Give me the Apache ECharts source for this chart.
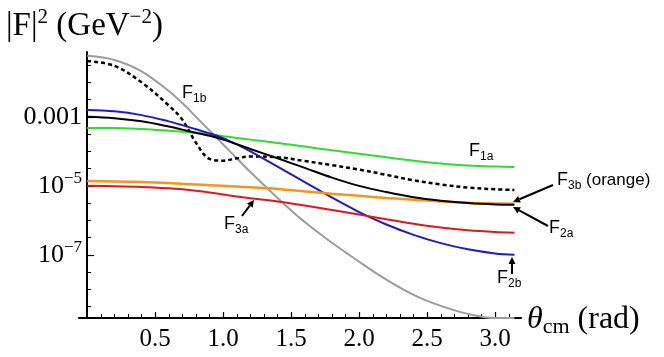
<!DOCTYPE html>
<html><head><meta charset="utf-8">
<script src="https://cdn.jsdelivr.net/npm/echarts@6/dist/echarts.min.js"></script>
<style>html,body{margin:0;padding:0;background:#fff}#c{width:664px;height:357px}</style>
</head><body><div id="c"></div>
<script>
// scattering angle (rad)
const theta = [0,0.2,0.4,0.6,0.7,0.8,0.9,1.0,1.1,1.2,1.4,1.6,1.8,2.0,2.2,2.4,2.6,2.8,3.0,3.1416];
// log10 of |F|^2 (GeV^-2)
const logF1b  = [-1.23,-1.35,-1.68,-2.25,-2.6,-3.0,-3.4,-3.8,-4.2,-4.6,-5.35,-6.05,-6.65,-7.2,-7.72,-8.16,-8.48,-8.71,-8.83,-8.83];
const logTot  = [-1.38,-1.52,-2.0,-2.67,-3.08,-3.75,-4.22,-4.27,-4.20,-4.15,-4.17,-4.28,-4.40,-4.53,-4.68,-4.84,-4.96,-5.05,-5.10,-5.12];
const logF1a  = [-3.32,-3.32,-3.35,-3.40,-3.43,-3.47,-3.51,-3.56,-3.61,-3.66,-3.76,-3.86,-3.97,-4.07,-4.17,-4.27,-4.35,-4.41,-4.44,-4.45];
const logF2b  = [-2.80,-2.84,-2.95,-3.13,-3.24,-3.36,-3.48,-3.62,-3.80,-4.00,-4.44,-4.89,-5.34,-5.76,-6.12,-6.42,-6.66,-6.84,-6.96,-7.00];
const logF3a  = [-5.00,-5.01,-5.03,-5.07,-5.10,-5.14,-5.19,-5.25,-5.31,-5.36,-5.45,-5.57,-5.70,-5.83,-5.97,-6.10,-6.21,-6.29,-6.34,-6.36];
const logF3b  = [-4.86,-4.87,-4.89,-4.92,-4.94,-4.96,-4.98,-5.00,-5.02,-5.04,-5.09,-5.16,-5.23,-5.29,-5.35,-5.40,-5.45,-5.49,-5.51,-5.52];
const logF2a  = [-3.00,-3.04,-3.13,-3.28,-3.37,-3.46,-3.55,-3.66,-3.79,-3.93,-4.20,-4.48,-4.76,-5.00,-5.18,-5.33,-5.43,-5.50,-5.54,-5.55];
// tick labels
const xTickLabels = [0.5,1.0,1.5,2.0,2.5,3.0];
const yTickLabelExps = [-7,-5,-3];

const serif = 'Liberation Serif';
const sans = 'Liberation Sans';
const xMinorTicks = []; for (let i = 1; i <= 31; i++) if (i % 5) xMinorTicks.push(+(i/10).toFixed(1));
const yMinorTicks = []; for (let e = -8.5; e <= -1.5; e += 0.5) if (yTickLabelExps.indexOf(e) < 0) yMinorTicks.push(e);

const chart = echarts.init(document.getElementById('c'));
function mk(name, arr, color, width, dashed, z) {
  return { name, type: 'line', data: theta.map((t,i)=>[t, arr[i]]), xAxisIndex: 0, yAxisIndex: 0,
    smooth: 0.35, showSymbol: false, symbol: 'none', z: z,
    lineStyle: { color, width, type: dashed ? [4,3] : 'solid' }, itemStyle: { color } };
}
function arrow(x1,y1,x2,y2){
  const a = Math.atan2(y2-y1, x2-x1), L = 7, W = 3.5;
  const bx = x2 - L*Math.cos(a), by = y2 - L*Math.sin(a);
  return [
    { type:'line', shape:{x1, y1, x2:bx, y2:by}, style:{stroke:'#000', lineWidth:2}, z: 100 },
    { type:'polygon', shape:{points:[[x2,y2],[bx - W*Math.sin(a), by + W*Math.cos(a)],[bx + W*Math.sin(a), by - W*Math.cos(a)]]}, style:{fill:'#000'}, z: 100 }
  ];
}
function flabel(x, y, sub, extra){
  return { type:'text', x, y, z: 100, style:{
    text: '{f|F}{s|' + sub + '}' + (extra ? '{e| ' + extra + '}' : ''),
    verticalAlign:'middle',
    rich:{ f:{fontFamily:sans, fontSize:18, lineHeight:24, fill:'#000'},
           s:{fontFamily:sans, fontSize:12, lineHeight:12, verticalAlign:'bottom', fill:'#000'},
           e:{fontFamily:sans, fontSize:17, lineHeight:24, fill:'#000'} } } };
}

const graphic = [
  { type:'text', x: 6, y: 26, style:{ text:'{a|\u007cF\u007c}{s|2}{a| (GeV}{s|\u22122}{a|)}', verticalAlign:'middle',
      rich:{ a:{fontFamily:serif, fontSize:33, lineHeight:38, fill:'#000'},
             s:{fontFamily:serif, fontSize:21, lineHeight:21, verticalAlign:'top', fill:'#000'} } } },
  { type:'text', x: 527, y: 320, style:{ text:'{t|\u03b8}{c|cm}{a| (rad)}', verticalAlign:'middle',
      rich:{ t:{fontFamily:serif, fontStyle:'italic', fontSize:32, lineHeight:36, fill:'#000'},
             c:{fontFamily:serif, fontSize:22, lineHeight:22, verticalAlign:'bottom', fill:'#000'},
             a:{fontFamily:serif, fontSize:32, lineHeight:36, fill:'#000'} } } },
  flabel(182, 93, '1b'),
  flabel(469, 151, '1a'),
  flabel(557, 180, '3b', '(orange)'),
  flabel(549, 228, '2a'),
  flabel(497, 278, '2b'),
  flabel(224, 224, '3a'),
  ...arrow(553, 185, 513, 202),
  ...arrow(548, 226, 513, 207),
  ...arrow(512, 274, 512, 257),
  ...arrow(242, 216, 254, 200)
];

const xCommon = { type:'value', min:-0.06, max:3.19, position:'bottom', splitLine:{show:false} };
const yCommon = { type:'value', min:-8.83, max:-1.12, position:'left', splitLine:{show:false} };

chart.setOption({
  animation:false,
  backgroundColor:'#fff',
  grid:{ left:79, right:143, top:52, bottom:39, containLabel:false },
  xAxis:[
    Object.assign({}, xCommon, {
      axisLine:{show:true, onZero:false, lineStyle:{color:'#000', width:2}},
      axisTick:{show:true, inside:true, length:4, customValues:xMinorTicks, lineStyle:{color:'#000', width:1}},
      axisLabel:{show:true, customValues:xTickLabels, formatter:v=>Number(v).toFixed(1), color:'#000', fontFamily:serif, fontSize:25, margin:9}
    }),
    Object.assign({}, xCommon, {
      axisLine:{show:false, onZero:false},
      axisTick:{show:true, inside:true, length:6, customValues:xTickLabels, lineStyle:{color:'#000', width:1.2}},
      axisLabel:{show:false}
    })
  ],
  yAxis:[
    Object.assign({}, yCommon, {
      axisLine:{show:true, onZero:true, onZeroAxisIndex:0, lineStyle:{color:'#000', width:2}},
      axisTick:{show:true, inside:true, length:7, customValues:yTickLabelExps, lineStyle:{color:'#000', width:1.2}},
      axisLabel:{show:true, customValues:yTickLabelExps, margin:-3,
        formatter:v=> v === -3 ? '{b|0.001}' : '{b|10}{s|\u2212' + (-v) + '}',
        rich:{ b:{fontFamily:serif, fontSize:26, lineHeight:32, color:'#000'},
               s:{fontFamily:serif, fontSize:17, lineHeight:17, verticalAlign:'top', color:'#000'} } }
    }),
    Object.assign({}, yCommon, {
      axisLine:{show:false, onZero:true, onZeroAxisIndex:0},
      axisTick:{show:true, inside:true, length:4, customValues:yMinorTicks, lineStyle:{color:'#000', width:1}},
      axisLabel:{show:false}
    })
  ],
  series:[
    mk('F1b', logF1b, '#9c9c9c', 2, false, 2),
    mk('total', logTot, '#000000', 2.5, true, 3),
    mk('F1a', logF1a, '#2fdc2f', 2, false, 4),
    mk('F2b', logF2b, '#1c1cc8', 2, false, 5),
    mk('F3a', logF3a, '#dd1a1a', 2, false, 6),
    mk('F3b', logF3b, '#f7941d', 2.5, false, 7),
    mk('F2a', logF2a, '#000000', 2, false, 8)
  ],
  graphic: graphic
});
</script></body></html>
